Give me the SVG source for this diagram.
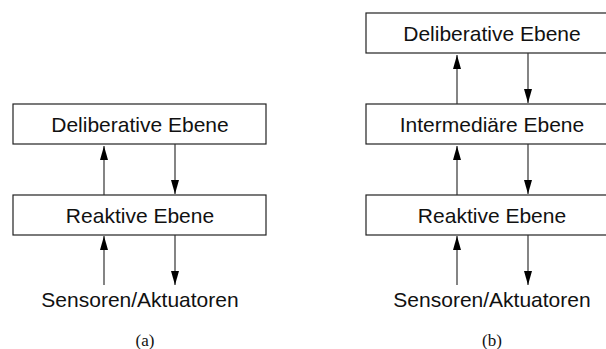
<svg xmlns="http://www.w3.org/2000/svg" width="606" height="349" viewBox="0 0 606 349">
  <style>
    .box { fill: #ffffff; stroke: #222222; stroke-width: 1.2; }
    .lbl { font-family: "Liberation Sans", Arial, sans-serif; font-size: 21px; fill: #111111; text-anchor: middle; }
    .cap { font-family: "Liberation Serif", "Times New Roman", serif; font-size: 17px; fill: #111111; text-anchor: middle; }
    .conn line { stroke: #333333; stroke-width: 1.2; }
  </style>
  <defs>
    <marker id="head" viewBox="0 0 14 8" refX="14" refY="4" markerWidth="14" markerHeight="8" markerUnits="userSpaceOnUse" orient="auto">
      <path d="M0,0 L14,4 L0,8 Z" fill="#000000"/>
    </marker>
  </defs>
  <rect width="606" height="349" fill="#ffffff"/>

  <!-- (a) two-layer architecture -->
  <g id="a-deliberative">
    <rect class="box" x="13" y="104" width="253" height="40"/>
    <text class="lbl" x="140" y="132">Deliberative Ebene</text>
  </g>
  <g id="a-reaktive">
    <rect class="box" x="13" y="195" width="253" height="40"/>
    <text class="lbl" x="140" y="223">Reaktive Ebene</text>
  </g>
  <g id="a-sensoren">
    <text class="lbl" x="140" y="307">Sensoren/Aktuatoren</text>
  </g>
  <text class="cap" x="145" y="346">(a)</text>

  <!-- (b) three-layer architecture -->
  <g id="b-deliberative">
    <rect class="box" x="366" y="13" width="253" height="40"/>
    <text class="lbl" x="492" y="41">Deliberative Ebene</text>
  </g>
  <g id="b-intermediaer">
    <rect class="box" x="366" y="104" width="253" height="40"/>
    <text class="lbl" x="492" y="132">Intermediäre Ebene</text>
  </g>
  <g id="b-reaktive">
    <rect class="box" x="366" y="195" width="253" height="40"/>
    <text class="lbl" x="492" y="223">Reaktive Ebene</text>
  </g>
  <g id="b-sensoren">
    <text class="lbl" x="492" y="307">Sensoren/Aktuatoren</text>
  </g>
  <text class="cap" x="492" y="346">(b)</text>

  <g id="connectors" class="conn">
    <!-- (a) -->
    <line x1="104" y1="195" x2="104" y2="146" marker-end="url(#head)"/>
    <line x1="175" y1="144" x2="175" y2="194" marker-end="url(#head)"/>
    <line x1="104" y1="285" x2="104" y2="236" marker-end="url(#head)"/>
    <line x1="175" y1="235" x2="175" y2="285" marker-end="url(#head)"/>
    <!-- (b) -->
    <line x1="457" y1="104" x2="457" y2="55" marker-end="url(#head)"/>
    <line x1="528" y1="53" x2="528" y2="103" marker-end="url(#head)"/>
    <line x1="457" y1="195" x2="457" y2="146" marker-end="url(#head)"/>
    <line x1="528" y1="144" x2="528" y2="194" marker-end="url(#head)"/>
    <line x1="457" y1="285" x2="457" y2="236" marker-end="url(#head)"/>
    <line x1="528" y1="235" x2="528" y2="285" marker-end="url(#head)"/>
  </g>
</svg>
